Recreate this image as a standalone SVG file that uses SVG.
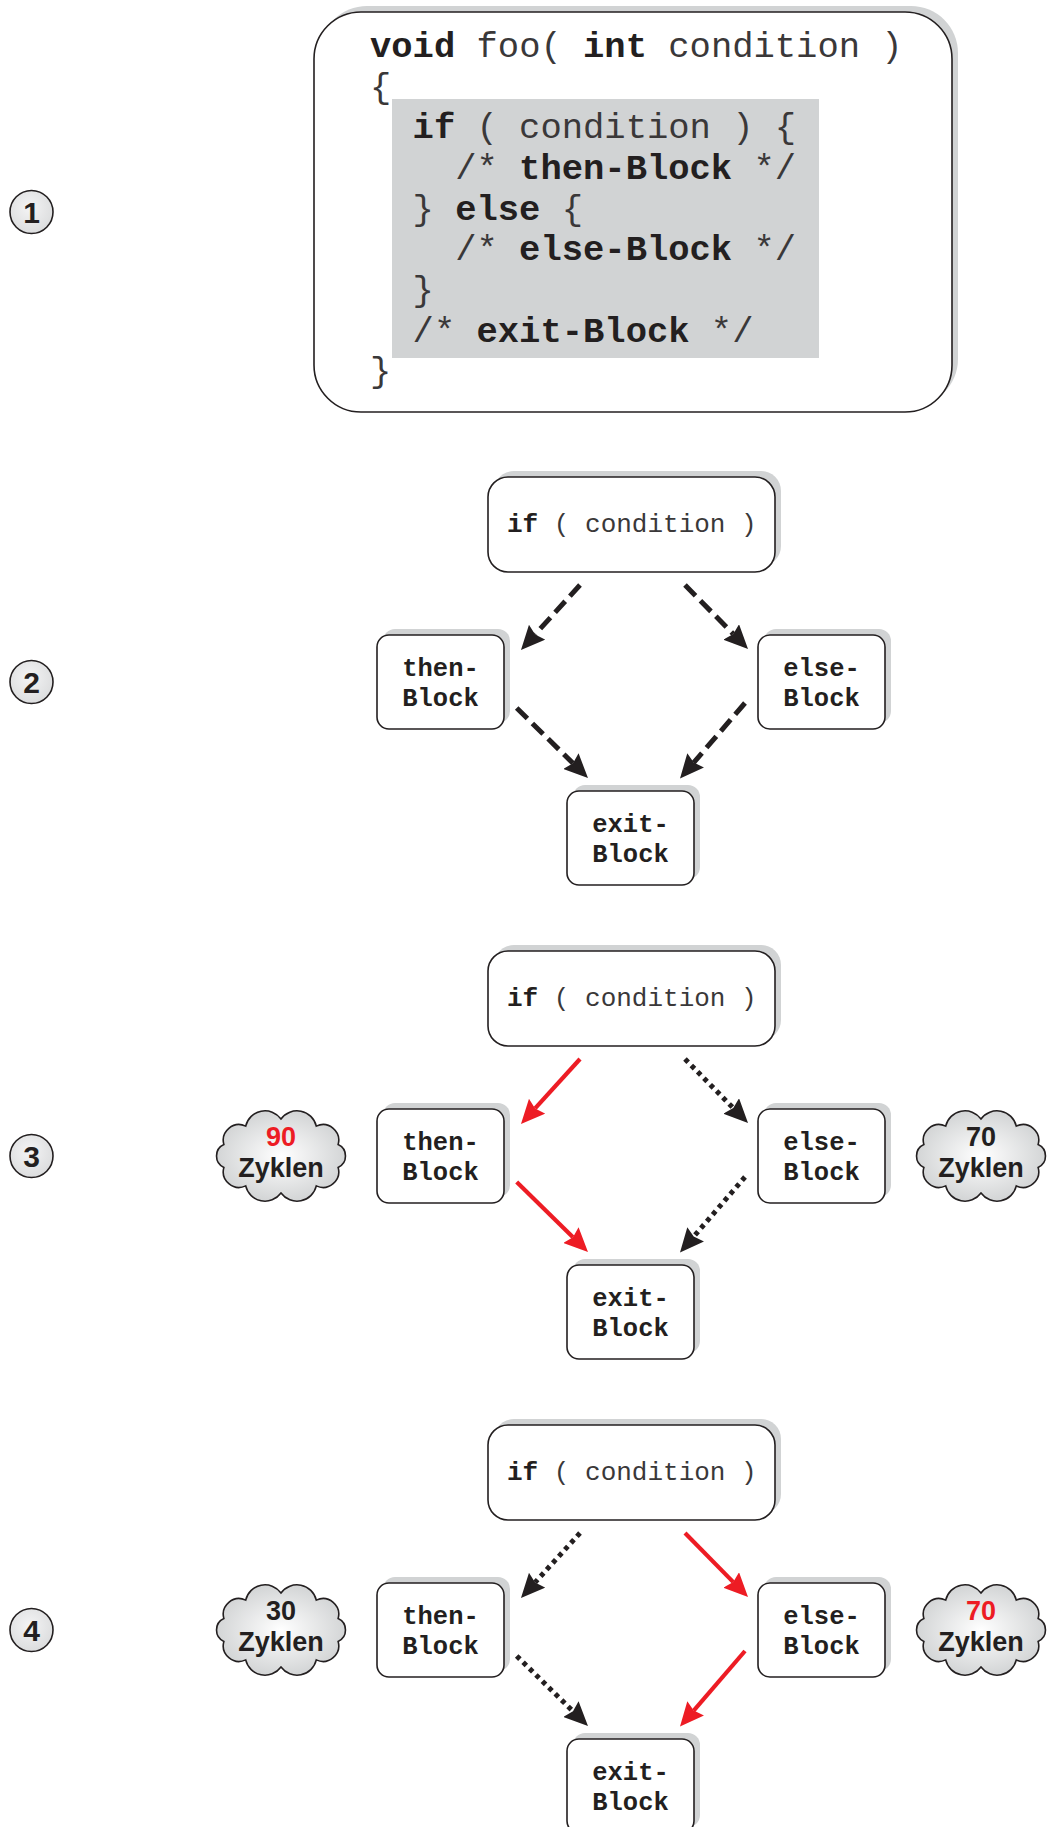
<svg xmlns="http://www.w3.org/2000/svg" xmlns:xlink="http://www.w3.org/1999/xlink" width="1047" height="1827" viewBox="0 0 1047 1827">
  <style>
    .shadow { fill: #d1d3d4; stroke: none; }
    .box { fill: #ffffff; stroke: #231f20; stroke-width: 1.6; }
    .mono { font-family: "Liberation Mono", "DejaVu Sans Mono", monospace; fill: #3a3839; }
    .b { font-weight: bold; fill: #231f20; }
    .code { font-size: 35.5px; }
    .cond { font-size: 26px; }
    .label { font-size: 25.5px; font-weight: bold; text-anchor: middle; fill: #231f20; }
    .sans { font-family: "Liberation Sans", Arial, sans-serif; font-weight: bold; text-anchor: middle; }
    .num { font-size: 27px; }
    .zyk { font-size: 27px; fill: #231f20; }
    .red-t { fill: #ed1c24; }
    .blk-t { fill: #231f20; }
    .step { fill: url(#stepFill); stroke: #231f20; stroke-width: 1.6; }
    .step-t { font-size: 30px; fill: #231f20; }
    .cloud { fill: url(#cloudFill); stroke: #231f20; stroke-width: 1.6; }
    .edge { fill: none; }
    .dash { stroke: #231f20; stroke-width: 5; stroke-dasharray: 15 7; marker-end: url(#ah-black); }
    .dot { stroke: #231f20; stroke-width: 5; stroke-dasharray: 4.5 4.5; marker-end: url(#ah-black); }
    .hot { stroke: #ed1c24; stroke-width: 4.2; marker-end: url(#ah-red); }
  </style>
  <defs>
    <radialGradient id="cloudFill" cx="0.5" cy="0.5" r="0.55">
      <stop offset="0" stop-color="#ffffff"/>
      <stop offset="1" stop-color="#cfd1d2"/>
    </radialGradient>
    <radialGradient id="stepFill" cx="0.45" cy="0.4" r="0.6">
      <stop offset="0" stop-color="#f4f4f5"/>
      <stop offset="1" stop-color="#dcddde"/>
    </radialGradient>
    <marker id="ah-black" viewBox="0 0 24 22" markerUnits="userSpaceOnUse" markerWidth="24" markerHeight="22" refX="3" refY="11" orient="auto">
      <path d="M0,0 L24,11 L0,22 L3,11 z" fill="#231f20"/>
    </marker>
    <marker id="ah-red" viewBox="0 0 24 22" markerUnits="userSpaceOnUse" markerWidth="24" markerHeight="22" refX="3" refY="11" orient="auto">
      <path d="M0,0 L24,11 L0,22 L3,11 z" fill="#ed1c24"/>
    </marker>
    <path id="cloud-shape" d="M-57.1,-11.4 A15.7,15.7 0 0 1 -35.3,-29.9 A19.8,19.8 0 0 1 0,-37 A19.8,19.8 0 0 1 35.3,-29.9 A15.7,15.7 0 0 1 57.1,-11.4 A12.5,12.5 0 0 1 57.1,11.4 A15.7,15.7 0 0 1 35.3,29.9 A19.8,19.8 0 0 1 0,37 A19.8,19.8 0 0 1 -35.3,29.9 A15.7,15.7 0 0 1 -57.1,11.4 A12.5,12.5 0 0 1 -57.1,-11.4 Z"/>
  </defs>

  <rect width="1047" height="1827" fill="#ffffff"/>

  <!-- step markers -->
  <g id="step-1"><circle class="step" cx="31.5" cy="212" r="21.5"/><text class="sans step-t" x="31.5" y="223">1</text></g>
  <g id="step-2"><circle class="step" cx="31.5" cy="682" r="21.5"/><text class="sans step-t" x="31.5" y="693">2</text></g>
  <g id="step-3"><circle class="step" cx="31.5" cy="1156" r="21.5"/><text class="sans step-t" x="31.5" y="1167">3</text></g>
  <g id="step-4"><circle class="step" cx="31.5" cy="1630" r="21.5"/><text class="sans step-t" x="31.5" y="1641">4</text></g>

  <!-- source listing -->
  <g id="code">
    <rect class="shadow" x="320" y="6" width="638" height="400" rx="47"/>
    <rect class="box" x="314" y="12" width="638" height="400" rx="47"/>
    <rect x="392" y="99" width="427" height="259" fill="#d1d3d4"/>
    <text class="mono code" x="370" y="57"><tspan class="b">void</tspan> foo( <tspan class="b">int</tspan> condition )</text>
    <text class="mono code" x="370" y="98">{</text>
    <text class="mono code" x="412.6" y="138"><tspan class="b">if</tspan> ( condition ) {</text>
    <text class="mono code" x="455.2" y="179">/* <tspan class="b">then-Block</tspan> */</text>
    <text class="mono code" x="412.6" y="220">} <tspan class="b">else</tspan> {</text>
    <text class="mono code" x="455.2" y="260">/* <tspan class="b">else-Block</tspan> */</text>
    <text class="mono code" x="412.6" y="301">}</text>
    <text class="mono code" x="412.6" y="342">/* <tspan class="b">exit-Block</tspan> */</text>
    <text class="mono code" x="370" y="382">}</text>
  </g>

  <!-- stage 2: plain control flow -->
  <g id="stage-2">
    <g id="s2-if">
      <rect class="shadow" x="494" y="471" width="287" height="95" rx="20"/>
      <rect class="box" x="488" y="477" width="287" height="95" rx="20"/>
      <text class="mono cond" x="507" y="532"><tspan class="b">if</tspan> ( condition )</text>
    </g>
    <g id="s2-then">
      <rect class="shadow" x="383" y="629" width="127" height="94" rx="12"/>
      <rect class="box" x="377" y="635" width="127" height="94" rx="12"/>
      <text class="mono label" x="440.5" y="676">then-</text>
      <text class="mono label" x="440.5" y="706">Block</text>
    </g>
    <g id="s2-else">
      <rect class="shadow" x="764" y="629" width="127" height="94" rx="12"/>
      <rect class="box" x="758" y="635" width="127" height="94" rx="12"/>
      <text class="mono label" x="821.5" y="676">else-</text>
      <text class="mono label" x="821.5" y="706">Block</text>
    </g>
    <g id="s2-exit">
      <rect class="shadow" x="573" y="785" width="127" height="94" rx="12"/>
      <rect class="box" x="567" y="791" width="127" height="94" rx="12"/>
      <text class="mono label" x="630.5" y="832">exit-</text>
      <text class="mono label" x="630.5" y="862">Block</text>
    </g>
    <g id="s2-edges" class="edge">
      <path class="dash" d="M580,585 L535.1,634.4"/>
      <path class="dash" d="M685,585 L733.3,634.1"/>
      <path class="dash" d="M516.7,708 L573,763.3"/>
      <path class="dash" d="M745,703 L693.7,762.6"/>
    </g>
  </g>

  <!-- stage 3: then branch taken -->
  <g id="stage-3" transform="translate(0,474)">
    <g id="s3-if">
      <rect class="shadow" x="494" y="471" width="287" height="95" rx="20"/>
      <rect class="box" x="488" y="477" width="287" height="95" rx="20"/>
      <text class="mono cond" x="507" y="532"><tspan class="b">if</tspan> ( condition )</text>
    </g>
    <g id="s3-then">
      <rect class="shadow" x="383" y="629" width="127" height="94" rx="12"/>
      <rect class="box" x="377" y="635" width="127" height="94" rx="12"/>
      <text class="mono label" x="440.5" y="676">then-</text>
      <text class="mono label" x="440.5" y="706">Block</text>
    </g>
    <g id="s3-else">
      <rect class="shadow" x="764" y="629" width="127" height="94" rx="12"/>
      <rect class="box" x="758" y="635" width="127" height="94" rx="12"/>
      <text class="mono label" x="821.5" y="676">else-</text>
      <text class="mono label" x="821.5" y="706">Block</text>
    </g>
    <g id="s3-exit">
      <rect class="shadow" x="573" y="785" width="127" height="94" rx="12"/>
      <rect class="box" x="567" y="791" width="127" height="94" rx="12"/>
      <text class="mono label" x="630.5" y="832">exit-</text>
      <text class="mono label" x="630.5" y="862">Block</text>
    </g>
    <g id="s3-cost-then">
      <use class="cloud" href="#cloud-shape" xlink:href="#cloud-shape" x="281" y="682"/>
      <text class="sans num red-t" x="281" y="672">90</text>
      <text class="sans zyk" x="281" y="703">Zyklen</text>
    </g>
    <g id="s3-cost-else">
      <use class="cloud" href="#cloud-shape" xlink:href="#cloud-shape" x="981" y="682"/>
      <text class="sans num blk-t" x="981" y="672">70</text>
      <text class="sans zyk" x="981" y="703">Zyklen</text>
    </g>
    <g id="s3-edges" class="edge">
      <path class="hot" d="M580,585 L535.1,634.4"/>
      <path class="dot" d="M685,585 L733.3,634.1"/>
      <path class="hot" d="M516.7,708 L573,763.3"/>
      <path class="dot" d="M745,703 L693.7,762.6"/>
    </g>
  </g>

  <!-- stage 4: else branch taken -->
  <g id="stage-4" transform="translate(0,948)">
    <g id="s4-if">
      <rect class="shadow" x="494" y="471" width="287" height="95" rx="20"/>
      <rect class="box" x="488" y="477" width="287" height="95" rx="20"/>
      <text class="mono cond" x="507" y="532"><tspan class="b">if</tspan> ( condition )</text>
    </g>
    <g id="s4-then">
      <rect class="shadow" x="383" y="629" width="127" height="94" rx="12"/>
      <rect class="box" x="377" y="635" width="127" height="94" rx="12"/>
      <text class="mono label" x="440.5" y="676">then-</text>
      <text class="mono label" x="440.5" y="706">Block</text>
    </g>
    <g id="s4-else">
      <rect class="shadow" x="764" y="629" width="127" height="94" rx="12"/>
      <rect class="box" x="758" y="635" width="127" height="94" rx="12"/>
      <text class="mono label" x="821.5" y="676">else-</text>
      <text class="mono label" x="821.5" y="706">Block</text>
    </g>
    <g id="s4-exit">
      <rect class="shadow" x="573" y="785" width="127" height="94" rx="12"/>
      <rect class="box" x="567" y="791" width="127" height="94" rx="12"/>
      <text class="mono label" x="630.5" y="832">exit-</text>
      <text class="mono label" x="630.5" y="862">Block</text>
    </g>
    <g id="s4-cost-then">
      <use class="cloud" href="#cloud-shape" xlink:href="#cloud-shape" x="281" y="682"/>
      <text class="sans num blk-t" x="281" y="672">30</text>
      <text class="sans zyk" x="281" y="703">Zyklen</text>
    </g>
    <g id="s4-cost-else">
      <use class="cloud" href="#cloud-shape" xlink:href="#cloud-shape" x="981" y="682"/>
      <text class="sans num red-t" x="981" y="672">70</text>
      <text class="sans zyk" x="981" y="703">Zyklen</text>
    </g>
    <g id="s4-edges" class="edge">
      <path class="dot" d="M580,585 L535.1,634.4"/>
      <path class="hot" d="M685,585 L733.3,634.1"/>
      <path class="dot" d="M516.7,708 L573,763.3"/>
      <path class="hot" d="M745,703 L693.7,762.6"/>
    </g>
  </g>
</svg>
